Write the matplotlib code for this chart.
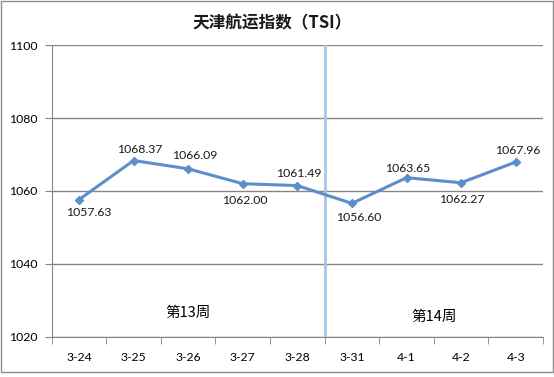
import matplotlib
matplotlib.use("Agg")
import matplotlib.pyplot as plt
from matplotlib.patches import Rectangle
import matplotlib.ticker as mticker

plt.rcParams['font.family'] = ['Lato', 'Noto Sans CJK SC', 'DejaVu Sans']

# ---- data ----
dates = ["3-24", "3-25", "3-26", "3-27", "3-28", "3-31", "4-1", "4-2", "4-3"]
tsi = [1057.63, 1068.37, 1066.09, 1062.00, 1061.49, 1056.60, 1063.65, 1062.27, 1067.96]
week_labels = ["第13周", "第14周"]
title = "天津航运指数（TSI）"

# label offsets in pixels (dx, dy), styling only
label_offsets = [(10, -13), (6, 11), (7, 13), (2, -17), (1, 12),
                 (7, -14), (1, 9), (1, -17), (2, 12)]

W, H, DPI = 554, 377, 100
fig = plt.figure(figsize=(W / DPI, H / DPI), dpi=DPI)
fig.patch.set_facecolor("white")

# outer border
fig.patches.append(Rectangle((1 / W, 1 - 372 / H), 552 / W, 371 / H,
                             transform=fig.transFigure, fill=False,
                             edgecolor="#8c8c8c", linewidth=1.0))

left, right, top, bottom = 51.7, 543, 45.3, 336.7
ax = fig.add_axes([left / W, 1 - bottom / H, (right - left) / W, (bottom - top) / H])

x = list(range(len(dates)))
ax.set_xlim(-0.5, len(dates) - 0.5)
ax.set_ylim(1020, 1100)
ax.yaxis.set_major_locator(mticker.MultipleLocator(20))

for s in ["top", "right"]:
    ax.spines[s].set_visible(False)
ax.spines["left"].set_color("#868686")
ax.spines["bottom"].set_color("#868686")
ax.grid(axis="y", color="#868686", linewidth=1.0)
ax.set_axisbelow(True)

ax.set_xticks(x)
ax.set_xticklabels(dates, fontsize=8.8)
ax.set_xticks([i - 0.5 for i in range(len(dates) + 1)], minor=True)
ax.tick_params(axis="x", which="major", length=0, pad=11)
ax.tick_params(axis="x", which="minor", length=5, color="#868686", direction="out")
ax.tick_params(axis="y", length=5, color="#868686", labelsize=8.8, pad=5)

# week separator
ax.axvline(4.5, color="#a9c7e3", linewidth=2, zorder=1)

ax.plot(x, tsi, color="#5b8fcb", linewidth=2.2, marker="D", markersize=4,
        zorder=3, clip_on=False)

for xi, v, (dx, dy) in zip(x, tsi, label_offsets):
    ax.annotate(f"{v:.2f}", (xi, v), xytext=(dx, dy), textcoords="offset pixels",
                ha="center", va="center", fontsize=8.8, color="#1a1a1a")

ax.text(2, 1026.5, week_labels[0], ha="center", va="center", fontsize=10.5,
        family=['Noto Sans CJK SC', 'DejaVu Sans'])
ax.text(6.5, 1025.5, week_labels[1], ha="center", va="center", fontsize=10.5,
        family=['Noto Sans CJK SC', 'DejaVu Sans'])

fig.text(272 / W, 1 - 23 / H, title, ha="center", va="center", fontsize=12,
         fontweight="bold", family=['Noto Sans CJK SC', 'DejaVu Sans'], color="#1a1a1a")

fig.savefig("out.png", dpi=DPI)
